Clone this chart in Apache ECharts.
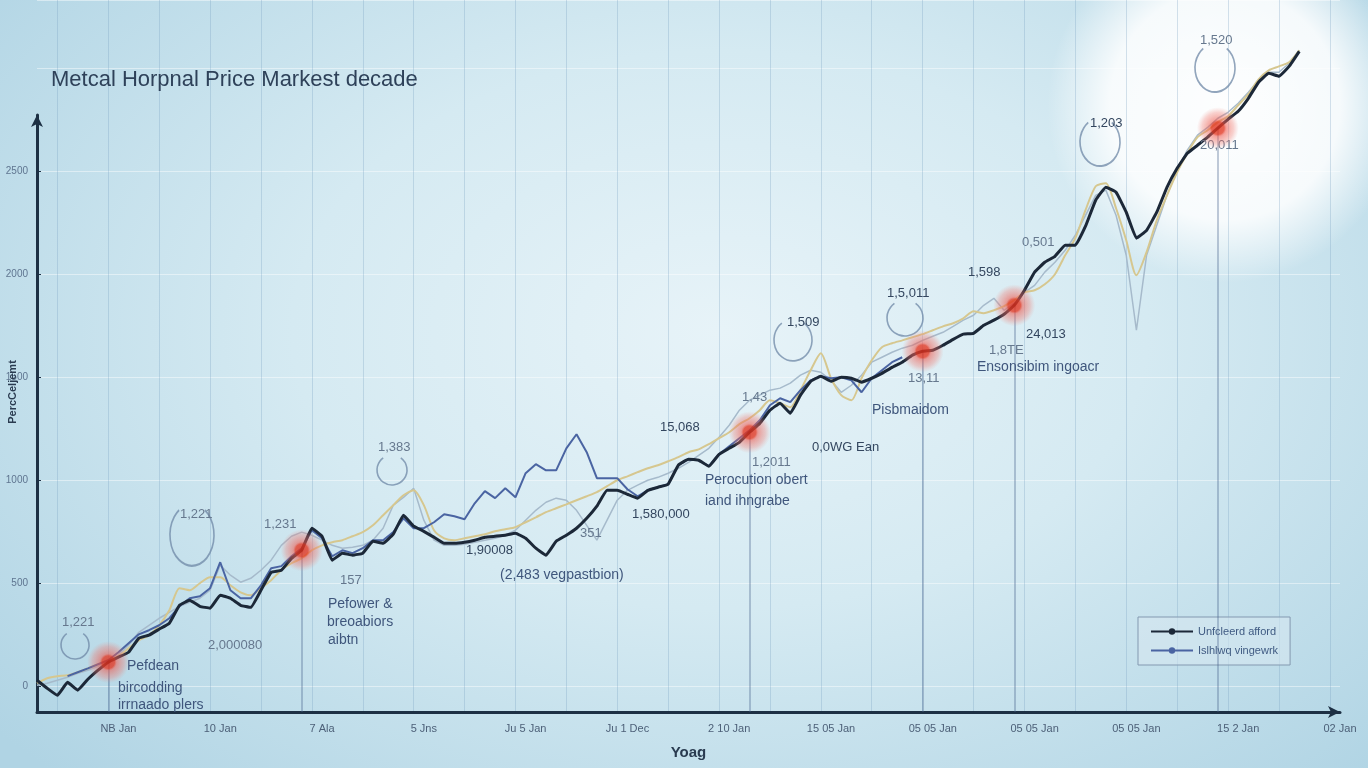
<!DOCTYPE html>
<html><head><meta charset="utf-8">
<script src="https://cdn.jsdelivr.net/npm/echarts@6/dist/echarts.min.js"></script>
<style>
html,body{margin:0;padding:0;width:1368px;height:768px;overflow:hidden;}
body{background:
 radial-gradient(circle at 1225px 105px, rgba(255,255,255,0.97) 0px, rgba(255,255,255,0.85) 115px, rgba(255,255,255,0) 178px),
 radial-gradient(ellipse 950px 620px at 720px 330px, #e7f3f8 0%, #d5eaf2 45%, #b0d4e4 100%);}
#c{width:1368px;height:768px;}
</style></head><body><div id="c"></div>
<script>
// ---- data ----
const xTickLabels = ['NB Jan','10 Jan','7 Ala','5 Jns','Ju 5 Jan','Ju 1 Dec','2 10 Jan','15 05 Jan','05 05 Jan','05 05 Jan','05 05 Jan','15 2 Jan','02 Jan'];
const seriesNames = ['Unfcleerd afford','Islhlwq vingewrk','Trend','Index'];
const yAxisTitle = 'PercCeljemt';
const blackValues = [
 29,-10,-44,19,-19,34,78,117,141,165,
 233,248,277,306,393,417,388,379,442,427,
 393,383,466,553,563,621,660,767,728,612,
 646,636,646,704,694,738,830,777,752,723,
 694,694,699,709,723,728,733,743,718,670,
 636,704,733,767,815,874,951,951,932,913,
 951,966,981,1073,1102,1097,1068,1126,1155,1184,
 1233,1276,1340,1374,1325,1413,1480,1505,1480,1500,
 1495,1476,1495,1519,1548,1573,1607,1626,1631,1655,
 1684,1709,1713,1752,1777,1806,1849,1922,2010,2058,
 2087,2141,2141,2233,2359,2422,2398,2301,2175,2213,
 2301,2422,2514,2587,2626,2665,2709,2752,2791,2854,
 2932,2975,2961,3009,3082];
const blueValues = [
 null,null,null,49,68,87,107,126,165,209,
 252,272,296,330,388,427,437,476,602,466,
 427,427,490,573,583,631,670,757,718,631,
 660,646,670,709,709,748,815,767,767,796,
 835,825,811,888,947,913,961,917,1034,1078,
 1048,1048,1155,1223,1136,1010,1010,1010,956,922,
 951,966,981,1073,1102,1097,1068,1126,1165,1204,
 1243,1291,1364,1398,1379,1437,1485,1505,1495,1500,
 1485,1427,1495,1534,1573,1597];
const tanValues = [
 15,39,49,53,68,87,107,126,146,184,
 223,248,296,369,476,466,500,529,529,490,
 456,442,476,515,563,597,621,660,684,699,
 709,728,748,781,830,879,927,951,879,757,
 718,709,718,728,738,752,762,772,796,820,
 845,864,883,903,922,942,971,1000,1019,1039,
 1058,1073,1092,1112,1136,1150,1175,1204,1233,1272,
 1301,1340,1388,1374,1354,1437,1534,1616,1495,1413,
 1388,1495,1582,1646,1665,1679,1694,1709,1728,1747,
 1762,1786,1820,1811,1825,1845,1874,1912,1922,1951,
 2000,2092,2175,2311,2427,2442,2320,2165,1995,2107,
 2262,2383,2495,2587,2665,2699,2738,2767,2820,2874,
 2946,2990,3009,3029,3087];
const greyValues = [
 5,15,29,44,63,78,97,117,150,199,
 262,296,330,359,388,408,427,466,587,539,
 505,524,563,612,684,728,748,733,709,684,
 670,675,684,709,767,879,917,961,806,709,
 684,684,689,699,709,718,733,757,806,854,
 893,913,903,854,781,709,806,903,951,976,
 1000,1014,1034,1058,1087,1121,1155,1209,1267,1340,
 1388,1413,1437,1447,1471,1510,1534,1524,1485,1427,
 1461,1510,1573,1597,1621,1641,1655,1679,1699,1718,
 1747,1777,1801,1849,1883,1825,1859,1912,1946,2010,
 2058,2116,2189,2286,2383,2408,2286,2092,1728,2092,
 2238,2383,2505,2602,2675,2713,2757,2786,2830,2883,
 2942,2980,2980,3024,3087];
const markerIdx = [7,26,70,87,96,116];
const markerVal = [117,660,1233,1626,1849,2709];
const annotationTexts = [
 ['1,221',62,622,'num'],['1,221',180,514,'num'],['1,231',264,524,'num'],['157',340,580,'num'],
 ['2,000080',208,645,'num'],['Pefdean',127,666,'txt'],['bircodding',118,688,'txt'],['irrnaado plers',118,705,'txt'],
 ['Pefower &',328,604,'txt'],['breoabiors',327,622,'txt'],['aibtn',328,640,'txt'],
 ['1,383',378,447,'num'],['1,90008',466,550,'dark'],['(2,483 vegpastbion)',500,575,'txt'],['351',580,533,'num'],
 ['1,580,000',632,514,'dark'],['15,068',660,427,'dark'],['1,43',742,397,'num'],['1,2011',752,462,'num'],
 ['Perocution obert',705,480,'txt'],['iand ihngrabe',705,501,'txt'],['0,0WG Ean',812,447,'dark'],
 ['1,509',787,322,'dark'],['1,5,011',887,293,'dark'],['13,11',908,378,'num'],['Pisbmaidom',872,410,'txt'],
 ['1,598',968,272,'dark'],['24,013',1026,334,'dark'],['1,8TE',989,350,'num'],['Ensonsibim ingoacr',977,367,'txt'],
 ['0,501',1022,242,'num'],['1,203',1090,123,'dark'],['1,520',1200,40,'num'],['20,011',1200,145,'num']
];
const annotationArcs = [
 [75,645,14,1.0],[192,535,22,1.4],[392,470,15,1.0],[793,340,19,1.1],[905,318,18,1.0],[1100,142,20,1.2],[1215,68,20,1.2]
];

// ---- build ----
const N = 129;
const categories = [];
for (let i = 0; i < N; i++) {
  categories.push(i >= 8 && (i - 8) % 10 === 0 ? xTickLabels[(i - 8) / 10] : 'c' + i);
}
const chart = echarts.init(document.getElementById('c'), null, {renderer: 'canvas'});
const FONT = 'Liberation Sans, Arial, sans-serif';
const axisDark = '#1d3044';

const graphics = [];
annotationArcs.forEach(a => {
  graphics.push({type: 'arc', x: a[0], y: a[1], scaleY: a[3], silent: true, z: 5,
    shape: {cx: 0, cy: 0, r: a[2], startAngle: -Math.PI * 0.3, endAngle: Math.PI * 1.3, clockwise: true},
    style: {stroke: 'rgba(110,135,165,0.75)', lineWidth: 1.6, fill: null}});
});
annotationTexts.forEach(t => {
  const col = t[3] === 'txt' ? '#3f567c' : (t[3] === 'dark' ? '#33465f' : '#66788e');
  graphics.push({type: 'text', x: t[1], y: t[2], silent: true, z: 6,
    style: {text: t[0], fill: col, font: (t[3] === 'txt' ? '14px ' : '13px ') + FONT, textVerticalAlign: 'middle', textAlign: 'left'}});
});
graphics.push({type: 'text', x: 13, y: 392, rotation: Math.PI / 2, silent: true, z: 6,
  style: {text: yAxisTitle, fill: '#2a3b50', font: 'bold 11px ' + FONT, textAlign: 'center', textVerticalAlign: 'middle'}});

const dotGradient = new echarts.graphic.RadialGradient(0.5, 0.5, 0.5, [
  {offset: 0, color: '#e02c18'}, {offset: 0.3, color: '#e33a25'},
  {offset: 0.4, color: 'rgba(238,90,78,0.7)'}, {offset: 0.75, color: 'rgba(240,115,105,0.4)'},
  {offset: 1, color: 'rgba(240,140,130,0)'}]);

const option = {
  animation: false,
  backgroundColor: 'transparent',
  title: {text: 'Metcal Horpnal Price Markest decade', left: 46, top: 64,
    textStyle: {fontSize: 22, fontWeight: 'normal', color: '#2e4159', fontFamily: FONT}},
  legend: {
    data: [seriesNames[0], seriesNames[1]], orient: 'vertical', left: 1138, top: 617,
    padding: [9, 12, 9, 12], itemGap: 8, itemWidth: 42, itemHeight: 8,
    borderColor: '#8399b0', borderWidth: 1, backgroundColor: 'rgba(215,232,240,0.55)',
    textStyle: {fontSize: 11, color: '#3f5a82', fontFamily: FONT}
  },
  grid: [
    {left: 37, right: 28, top: 115, bottom: 56, containLabel: false, outerBoundsMode: 'none'},
    {left: 37, right: 28, top: 0, bottom: 56, containLabel: false, outerBoundsMode: 'none'}
  ],
  xAxis: [
    {gridIndex: 0, type: 'category', data: categories, boundaryGap: false,
      name: 'Yoag', nameLocation: 'middle', nameGap: 33,
      nameTextStyle: {fontSize: 15, fontWeight: 'bold', color: '#2a3b50', fontFamily: FONT},
      axisLine: {onZero: false, lineStyle: {color: axisDark, width: 3}, symbol: ['none', 'arrow'], symbolSize: [9, 12]},
      axisTick: {show: false},
      axisLabel: {interval: (idx) => idx >= 8 && (idx - 8) % 10 === 0, margin: 11, fontSize: 11, color: '#4d6078', fontFamily: FONT},
      splitLine: {show: false}},
    {gridIndex: 1, type: 'category', data: categories, boundaryGap: false,
      axisLine: {show: false, onZero: false}, axisTick: {show: false}, axisLabel: {show: false},
      splitLine: {show: true, interval: (idx) => idx % 5 === 2, lineStyle: {color: 'rgba(120,160,192,0.3)', width: 1}}}
  ],
  yAxis: [
    {gridIndex: 0, type: 'value', min: -125, max: 2773,
      axisLine: {show: true, onZero: false, lineStyle: {color: axisDark, width: 3}, symbol: ['none', 'arrow'], symbolSize: [9, 12]},
      axisTick: {show: true, inside: true, length: 4, lineStyle: {color: axisDark}},
      axisLabel: {showMinLabel: false, showMaxLabel: false, fontSize: 10, color: '#5f7590', margin: 9, fontFamily: FONT,
        formatter: (v) => String(v)},
      splitLine: {show: false}},
    {gridIndex: 1, type: 'value', min: -125, max: 3331,
      axisLine: {show: false, onZero: false}, axisTick: {show: false}, axisLabel: {show: false},
      splitLine: {show: true, lineStyle: {color: 'rgba(255,255,255,0.45)', width: 1}}}
  ],
  series: [
    {name: seriesNames[3], type: 'line', xAxisIndex: 1, yAxisIndex: 1, data: greyValues, showSymbol: false, symbol: 'none',
      lineStyle: {color: '#a6bacb', width: 1.5}, z: 2},
    {name: seriesNames[2], type: 'line', xAxisIndex: 1, yAxisIndex: 1, data: tanValues, showSymbol: false, symbol: 'none', smooth: 0.25,
      lineStyle: {color: '#d6c78f', width: 2}, z: 3},
    {name: seriesNames[1], type: 'line', xAxisIndex: 1, yAxisIndex: 1, data: blueValues, showSymbol: false, symbol: 'none',
      lineStyle: {color: '#4a64a2', width: 2}, itemStyle: {color: '#4a64a2'}, z: 4},
    {name: seriesNames[0], type: 'line', xAxisIndex: 1, yAxisIndex: 1, data: blackValues, showSymbol: false, symbol: 'none', smooth: 0.1,
      lineStyle: {color: '#1c2838', width: 3}, itemStyle: {color: '#1c2838'}, z: 5},
    {name: 'markers', type: 'scatter', xAxisIndex: 1, yAxisIndex: 1, z: 7,
      data: markerIdx.map((ix, k) => [categories[ix], markerVal[k]]),
      symbolSize: 42, itemStyle: {color: dotGradient},
      markLine: {silent: true, symbol: 'none', label: {show: false},
        lineStyle: {color: 'rgba(70,100,140,0.45)', width: 1.5, type: 'solid'},
        data: markerIdx.map((ix, k) => [{coord: [categories[ix], markerVal[k]]}, {coord: [categories[ix], -125]}])}}
  ],
  graphic: graphics
};
chart.setOption(option);
</script>
</body></html>
